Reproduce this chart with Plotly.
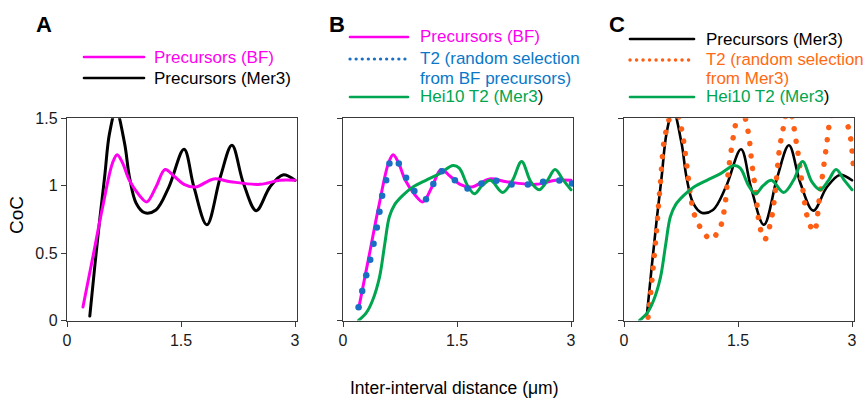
import plotly.graph_objects as go

W, H = 868, 403

# ---------------- data ----------------
# Precursors (BF)
x_bf = [0.21, 0.34, 0.47, 0.60, 0.66, 0.73, 0.82, 0.95, 1.05, 1.17, 1.29, 1.41, 1.54, 1.69, 1.93, 2.15, 2.54, 2.80, 3.0]
y_bf = [0.10, 0.47, 0.845, 1.17, 1.23, 1.17, 1.04, 0.93, 0.88, 0.99, 1.12, 1.07, 1.01, 0.99, 1.05, 1.03, 1.01, 1.04, 1.04]

# Precursors (Mer3)
x_mer3 = [0.30, 0.365, 0.43, 0.496, 0.56, 0.645, 0.757, 0.82, 0.91, 1.02, 1.17, 1.34, 1.54, 1.67, 1.84, 2.02, 2.17, 2.32, 2.49, 2.67, 2.84, 3.0]
y_mer3 = [0.033, 0.40, 0.746, 1.07, 1.39, 1.56, 1.316, 1.07, 0.87, 0.80, 0.82, 0.99, 1.27, 0.99, 0.71, 1.07, 1.30, 1.02, 0.815, 0.99, 1.08, 1.04]

# Hei10 T2 (Mer3)
x_hei = [0.205, 0.31, 0.39, 0.48, 0.55, 0.61, 0.68, 0.79, 0.92, 1.09, 1.27, 1.45, 1.53, 1.64, 1.73, 1.83, 1.94, 2.10, 2.23, 2.35, 2.47, 2.58, 2.69, 2.79, 2.90, 3.0]
y_hei = [0.0, 0.06, 0.15, 0.32, 0.57, 0.77, 0.86, 0.93, 0.99, 1.04, 1.09, 1.15, 1.13, 1.0, 0.94, 1.0, 1.04, 0.95, 1.04, 1.18, 1.03, 0.97, 1.04, 1.12, 1.04, 0.97]

# T2 (random selection from BF precursors)
x_t2bf = [0.205, 0.253, 0.306, 0.358, 0.402, 0.445, 0.480, 0.515, 0.568, 0.611, 0.734, 0.830, 0.939, 1.092, 1.188,
          1.301, 1.472, 1.638, 1.821, 2.017, 2.218, 2.432, 2.633, 2.847, 3.013]
y_t2bf = [0.099, 0.218, 0.335, 0.451, 0.570, 0.689, 0.806, 0.925, 1.041, 1.165, 1.165, 1.059, 0.960, 0.900, 1.012,
          1.108, 1.041, 0.979, 1.017, 1.036, 1.009, 1.009, 1.029, 1.039, 1.017]

# T2 (random selection from Mer3)
x_t2m = [0.317, 0.352, 0.426, 0.478, 0.543, 0.665, 0.753, 0.913, 0.978, 1.066, 1.14, 1.265, 1.33, 1.38, 1.48, 1.535,
         1.63, 1.687, 1.73, 1.787, 1.85, 1.927, 1.979, 2.044, 2.10, 2.165, 2.273, 2.36, 2.413, 2.50, 2.579, 2.665,
         2.71, 2.82, 2.926, 2.97, 3.02]
y_t2m = [0.024, 0.207, 0.652, 1.014, 1.378, 1.58, 1.43, 0.81, 0.716, 0.64, 0.60, 0.69, 0.865, 1.14, 1.49, 1.6,
         1.41, 1.142, 0.971, 0.697, 0.60, 0.722, 0.90, 1.266, 1.44, 1.6, 1.30, 0.945, 0.766, 0.66, 0.945, 1.30,
         1.476, 1.65, 1.476, 1.39, 1.13]

x_tickvals = [0, 1.5, 3]
x_ticktext = ["0", "1.5", "3"]
y_tickvals = [0, 0.5, 1, 1.5]
y_ticktext = ["0", "0.5", "1", "1.5"]

MAGENTA = "#ff00ee"
BLACK = "#000000"
GREEN = "#00a550"
BLUE = "#1a6ec4"
BLUE_TXT = "#0a78c8"
ORANGE = "#ff5f14"
ORANGE_TXT = "#ff6a13"
FONT = "Arial, Liberation Sans, sans-serif"

fig = go.Figure()


def line(x, y, color, width, ax, dash=None):
    return go.Scatter(x=x, y=y, mode="lines", xaxis="x" + ax, yaxis="y" + ax, showlegend=False,
                      hoverinfo="skip",
                      line=dict(color=color, width=width, shape="spline", smoothing=1.0, dash=dash))


# Panel A
fig.add_trace(line(x_mer3, y_mer3, BLACK, 3, ""))
fig.add_trace(line(x_bf, y_bf, MAGENTA, 3, ""))
# Panel B
fig.add_trace(line(x_bf, y_bf, MAGENTA, 3, "2"))
fig.add_trace(line(x_hei, y_hei, GREEN, 3, "2"))
fig.add_trace(go.Scatter(x=x_t2bf, y=y_t2bf, mode="markers", xaxis="x2", yaxis="y2", showlegend=False,
                         hoverinfo="skip", marker=dict(color=BLUE, size=6.5, line=dict(width=0))))
# Panel C
fig.add_trace(line(x_mer3, y_mer3, BLACK, 2.6, "3"))
fig.add_trace(line(x_t2m, y_t2m, ORANGE, 5.5, "3", dash="0.1px,12.3px"))
fig.add_trace(line(x_hei, y_hei, GREEN, 3, "3"))


def px_x(p):
    return p / W


def px_y(p):
    return 1 - p / H


ydom = [px_y(320.5), px_y(118.3)]
xdoms = [(67, 297), (343, 573), (624, 854)]

axis_common = dict(showline=True, linecolor="#3a3a3a", linewidth=1.4, mirror=True, ticks="outside",
                   ticklen=5, tickwidth=1.2, tickcolor="#3a3a3a", showgrid=False, zeroline=False,
                   tickfont=dict(family=FONT, size=16, color="#1a1a1a"), fixedrange=True,
                   automargin=False)

layout_axes = {}
for i, (a, b) in enumerate(xdoms):
    sfx = "" if i == 0 else str(i + 1)
    layout_axes["xaxis" + sfx] = dict(axis_common, domain=[px_x(a), px_x(b)], range=[0, 3.026],
                                      tickvals=x_tickvals, ticktext=x_ticktext, anchor="y" + sfx)
    layout_axes["yaxis" + sfx] = dict(axis_common, domain=ydom, range=[0, 1.5], tickvals=y_tickvals,
                                      ticktext=y_ticktext, anchor="x" + sfx, showticklabels=(i == 0))

fig.update_layout(width=W, height=H, margin=dict(l=0, r=0, t=0, b=0, pad=0, autoexpand=False),
                  paper_bgcolor="white", plot_bgcolor="white", **layout_axes)

annotations = []


def text(px, py, s, size=17, color="black", xanchor="left", bold=False, textangle=0):
    if bold:
        s = "<b>" + s + "</b>"
    annotations.append(dict(x=px_x(px), y=px_y(py), xref="paper", yref="paper", text=s, showarrow=False,
                            xanchor=xanchor, yanchor="middle", textangle=textangle, borderpad=0,
                            font=dict(family=FONT, size=size, color=color)))


shapes = []


def sample(x0, x1, py, color, width=2.6, dash=None):
    shapes.append(dict(type="line", xref="paper", yref="paper", x0=px_x(x0), x1=px_x(x1), y0=px_y(py),
                       y1=px_y(py), line=dict(color=color, width=width, dash=dash)))


# panel letters
text(44, 24, "A", size=22, xanchor="center", bold=True)
text(337, 24, "B", size=22, xanchor="center", bold=True)
text(617, 24, "C", size=22, xanchor="center", bold=True)

# legend A
sample(84, 144, 57, MAGENTA)
sample(84, 144, 78, BLACK)
text(153, 57, "Precursors (BF)", color=MAGENTA)
text(153, 78, "Precursors (Mer3)")

# legend B
sample(350, 408, 37, MAGENTA)
sample(350, 408, 59, BLUE, width=3.2, dash="0.1px,6px")
sample(350, 408, 97, GREEN)
text(419, 37, "Precursors (BF)", color=MAGENTA)
text(419, 59, "T2 (random selection", color=BLUE_TXT)
text(419, 79, "from BF precursors)", color=BLUE_TXT)
text(419, 97, "Hei10 T2 (Mer3<span style='color:black'>)</span>", color=GREEN)

# legend C
sample(630, 694, 39, BLACK)
sample(630, 694, 60, ORANGE, width=3.4, dash="0.1px,6.4px")
sample(630, 694, 97, GREEN)
text(705, 39, "Precursors (Mer3)")
text(705, 60, "T2 (random selection", color=ORANGE_TXT, size=16.8)
text(705, 79, "from Mer3)", color=ORANGE_TXT)
text(705, 97, "Hei10 T2 (Mer3<span style='color:black'>)</span>", color=GREEN)

# axis titles
text(16, 215, "CoC", size=19, xanchor="center", textangle=-90)
text(454, 388, "Inter-interval distance (μm)", size=17.5, xanchor="center")

fig.update_layout(annotations=annotations, shapes=shapes)

post = """
var st = document.createElement('style');
st.textContent = 'html, body { margin: 0; padding: 0; } '
  + '.scatterlayer path.js-line, .shapelayer path { stroke-linecap: round; }';
document.head.appendChild(st);
"""
fig.write_html("out.html", post_script=post, config={"displayModeBar": False})
